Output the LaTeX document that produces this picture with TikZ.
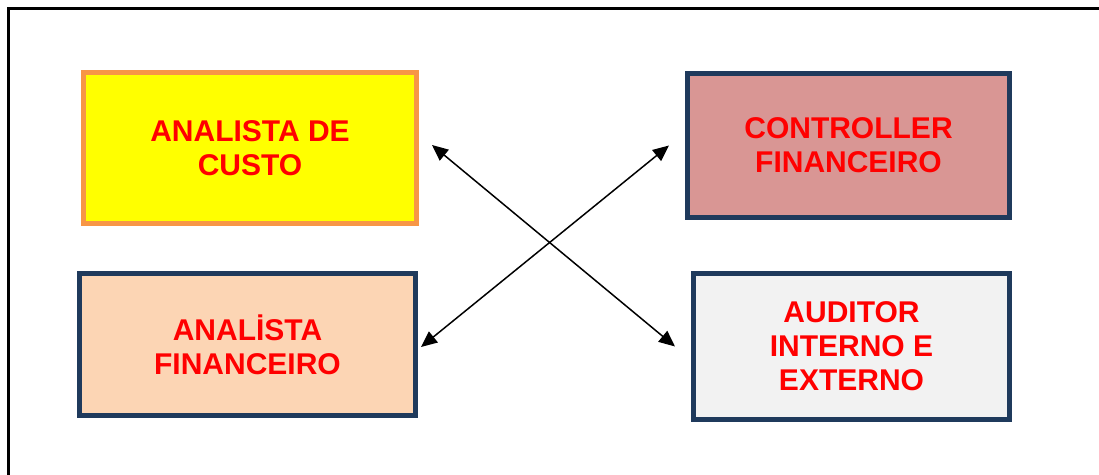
\documentclass[tikz,border=0pt]{standalone}
\usepackage{fontspec}
\setmainfont{Liberation Sans}
\usetikzlibrary{arrows.meta}

\definecolor{boxnavy}{HTML}{1F3A5C}
\definecolor{boxorange}{HTML}{F79646}
\definecolor{custofill}{HTML}{FFFF00}
\definecolor{ctrlfill}{HTML}{D99694}
\definecolor{finfill}{HTML}{FCD5B4}
\definecolor{audfill}{HTML}{F2F2F2}

\begin{document}
\begin{tikzpicture}[x=0.5pt, y=-0.5pt, font=\fontsize{15pt}{17pt}\selectfont\bfseries]
    \tikzstyle{box} = [rectangle, draw=boxnavy, line width=2.5pt, align=center, text=red, inner sep=0pt]
    \tikzstyle{link} = [{Triangle[length=8pt,width=7pt]}-{Triangle[length=8pt,width=7pt]}, line width=0.75pt]
    \useasboundingbox (0,0) rectangle (1099,475);
    % frame
    \draw[line width=1.5pt] (8,476) -- (8,9) -- (1100,9);
    % boxes
    \node[box, draw=boxorange, fill=custofill, minimum width=166.5pt, minimum height=75.5pt] (custo) at (250,148) {ANALISTA DE\\CUSTO};
    \node[box, fill=ctrlfill, minimum width=161pt, minimum height=72pt] (ctrl) at (848.5,145.5) {CONTROLLER\\FINANCEIRO};
    \node[box, fill=finfill, minimum width=168pt, minimum height=71pt] (fin) at (247.5,344.5) {ANALİSTA\\FINANCEIRO};
    \node[box, fill=audfill, minimum width=158pt, minimum height=73pt] (aud) at (851.5,346.5) {AUDITOR\\INTERNO E\\EXTERNO};
    % arrows
    \draw[link] ([xshift=6.5pt,yshift=1.5pt]custo.east) -- ([xshift=-8pt]aud.west);
    \draw[link] ([xshift=1.5pt,yshift=-1.25pt]fin.east) -- ([xshift=-8pt]ctrl.west);
\end{tikzpicture}
\end{document}
